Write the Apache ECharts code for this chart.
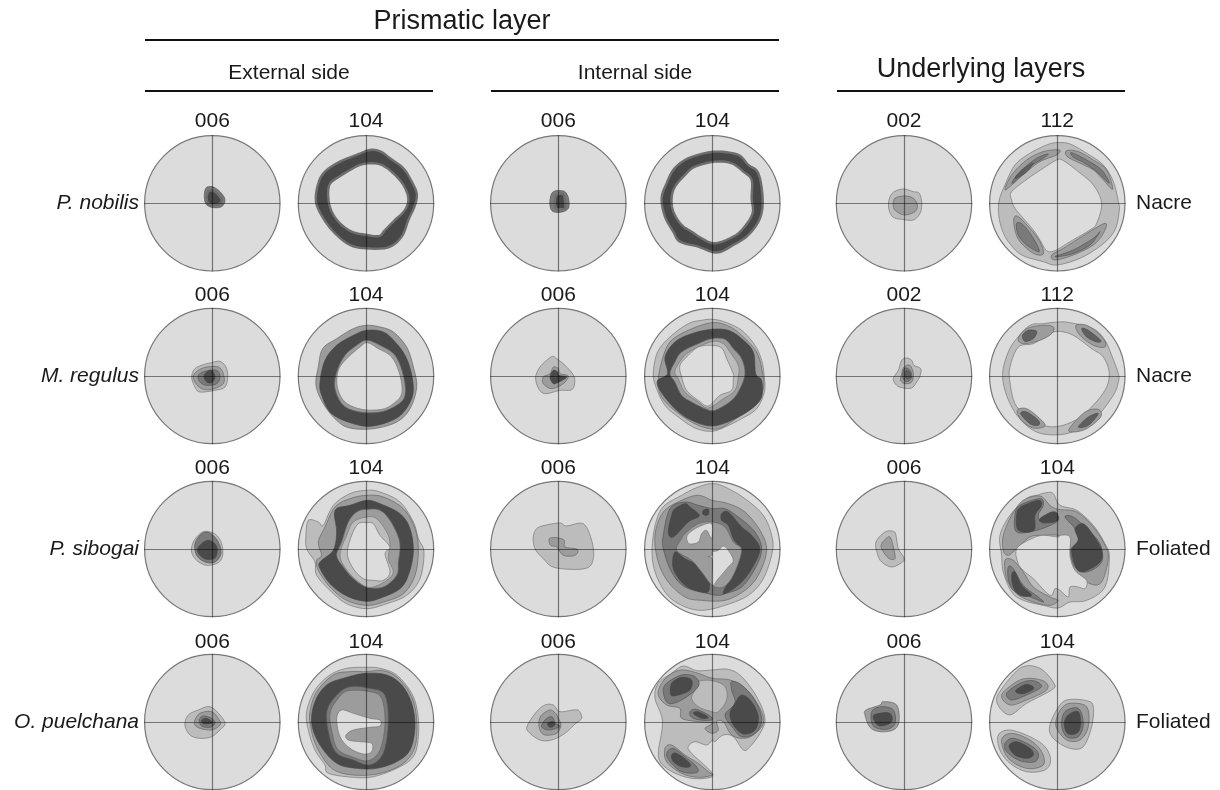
<!DOCTYPE html>
<html><head><meta charset="utf-8"><style>html,body{margin:0;background:#fff}#c{width:1220px;height:790px}</style>
<script src="https://cdn.jsdelivr.net/npm/echarts@6/dist/echarts.min.js"></script></head><body><div id="c"></div><script>
// Contours: [density level, [x,y, x,y ...]], per pole figure.
const nobilisExt006=[[3,[205,170,222,172,240,185,254,205,252,222,240,232,215,232,198,222,193,200,196,178]],[6,[208,182,225,185,243,205,243,218,225,225,205,220,200,200]]];
const nobilisExt104=[[6,[690,60,722,65,750,85,790,115,815,155,830,190,825,225,805,270,785,320,745,352,680,355,630,345,585,310,550,265,528,215,535,160,555,125,600,95,650,75]],[7,[690,100,725,105,760,130,790,165,805,205,795,240,765,270,735,300,718,318,680,315,635,305,600,280,575,245,565,205,568,165,590,145,630,120,660,105]]];
const nobilisInt006=[[3,[205,185,235,183,247,195,252,215,250,235,235,245,212,247,198,238,195,210]],[6,[215,195,235,193,240,215,240,235,225,238,213,235,210,215]]];
const nobilisInt104=[[6,[700,65,760,75,790,105,820,130,833,205,825,265,790,315,745,345,695,368,640,350,585,335,565,305,540,260,530,205,545,160,565,120,600,90,650,72]],[7,[690,95,740,100,775,125,800,150,800,205,803,250,775,295,745,320,690,340,650,325,620,305,590,285,565,245,560,205,570,170,600,135,630,110]]];
const nobilisUnd002=[[1,[220,177,250,185,268,190,275,220,270,250,250,270,215,268,190,262,177,240,177,210,190,187]],[2,[195,205,225,198,250,205,262,225,255,245,225,255,200,245,190,230]]];
const nobilisUnd112=[[1,[682,38,720,42,770,70,820,105,850,155,865,215,868,240,855,300,815,345,750,385,680,405,640,395,575,375,535,335,515,295,506,250,508,210,525,165,555,105,600,70,650,45]],[0,[680,90,700,92,745,125,790,165,815,220,800,280,780,300,720,335,675,362,650,362,630,330,610,300,580,265,555,235,545,210,545,185,595,145,640,115]],
[2,[525,178,545,135,590,90,640,65,688,60,680,75,630,95,585,130,540,170]],[3,[545,160,570,125,620,85,655,72,640,85,600,110,565,145]],[4,[555,145,580,118,610,100,585,130]],
[2,[710,62,745,65,790,90,830,120,848,178,820,150,790,120,750,100,712,80]],[3,[725,68,770,90,815,120,838,160,800,125,765,100,730,82]],
[2,[552,265,565,260,600,295,630,335,640,372,610,370,570,335,555,300]],[3,[560,280,580,285,610,325,628,365,590,345,565,315]],
[2,[665,375,700,355,755,320,825,280,820,310,790,345,730,375,675,390]],[3,[675,380,730,360,790,325,810,305,780,345,725,372]]];
const regulusExt006=[[1,[215,182,240,178,258,195,263,225,255,255,225,265,180,270,165,255,155,225,165,200,190,188]],[2,[175,205,200,195,235,195,250,215,250,245,215,262,185,260,165,240,160,222]],[3,[175,220,195,208,230,205,240,225,230,245,200,250,180,240]],[5,[198,212,215,205,225,225,215,242,200,240,192,225]]];
const regulusExt104=[[2,[680,70,720,75,760,90,800,135,820,195,830,255,810,320,770,360,700,380,630,378,590,355,550,305,528,250,535,195,548,140,590,110,640,80]],[5,[680,85,730,90,770,125,800,170,818,235,815,290,775,345,700,372,640,365,575,335,545,280,540,240,555,175,590,130,640,100]],[2,[680,115,720,130,765,160,790,220,795,280,770,310,720,330,660,330,610,310,585,260,590,210,615,160,650,130]],[0,[682,122,715,140,755,165,780,220,785,275,760,305,725,322,665,322,615,300,592,255,595,205,620,170,660,135]]];
const regulusInt006=[[1,[203,163,215,170,240,190,268,225,262,262,225,265,180,275,160,258,152,225,165,195,185,175]],[2,[175,225,195,215,205,195,220,200,225,215,250,222,235,245,200,260,175,245]],[5,[195,225,205,205,218,210,222,220,245,225,222,240,205,245]]];
const regulusInt104=[[1,[682,52,720,60,770,85,810,130,830,175,838,225,838,270,815,320,770,350,720,375,680,388,630,378,580,345,540,310,515,260,505,215,518,150,555,105,610,65,650,55]],[2,[680,62,730,72,770,100,815,150,832,210,835,260,810,310,760,345,700,380,640,370,575,330,530,285,520,240,530,180,555,120,610,85]],[5,[680,82,730,85,770,110,805,150,812,215,830,235,830,285,800,320,740,355,680,372,620,355,570,320,525,265,518,235,548,215,540,165,570,120,620,95]],[2,[680,110,720,112,745,140,770,170,780,215,765,260,740,295,690,325,660,320,620,300,590,280,570,240,555,215,570,180,590,150,640,125]],[1,[685,118,715,125,735,150,760,190,760,225,750,265,715,290,670,318,640,300,600,270,580,230,570,205,600,160,640,135]],[0,[680,130,710,138,725,170,745,215,745,232,740,265,705,280,670,312,640,295,605,265,590,225,585,190,610,160,640,135]]];
const regulusUnd002=[[1,[230,168,245,175,252,190,272,200,270,222,260,240,245,258,220,258,200,250,190,230,205,205,215,175]],[2,[222,195,240,190,250,215,245,240,225,245,212,235,215,215]],[3,[225,198,240,205,245,225,235,238,222,235,218,215]],[4,[230,205,240,212,240,228,228,228,225,215]]];
const regulusUnd112=[[1,[684,60,720,62,790,80,825,115,845,160,865,215,865,240,850,280,800,345,750,380,690,398,620,390,565,345,530,280,518,215,535,150,560,110,600,70,640,65]],[0,[684,88,730,100,785,140,820,165,838,215,825,265,780,320,745,350,690,372,640,370,590,340,555,305,540,240,540,195,565,135,610,125,650,100]],
[2,[565,110,590,80,640,70,670,75,665,95,630,115,580,125]],[4,[578,100,595,85,620,88,610,110,585,118]],[2,[738,70,775,72,820,110,825,135,790,130,750,100]],[4,[755,80,775,85,812,115,800,120,770,105]],[2,[562,325,590,320,630,350,645,372,610,378,575,355]],[4,[572,335,590,330,625,355,625,370,600,365]],[2,[718,380,765,330,805,322,812,345,770,380,730,390]],[4,[745,375,775,345,805,335,775,370]]];
const sibogaiExt006=[[1,[200,178,228,188,245,215,248,250,235,272,200,280,170,265,155,240,160,210,180,185]],[3,[185,185,210,183,235,210,243,245,225,270,195,270,170,250,165,215]],[5,[185,215,205,205,225,215,232,235,225,258,200,262,180,250,172,232]]];
const sibogaiExt104=[[1,[680,55,720,60,780,90,820,150,835,200,852,240,840,320,800,370,740,395,680,410,620,395,575,360,530,310,525,270,500,230,498,190,505,145,535,150,550,160,580,100,630,65]],[2,[680,70,730,75,790,110,825,170,835,235,825,310,790,365,730,390,680,400,620,385,570,345,535,295,530,265,545,250,535,210,555,165,585,105,630,80]],[5,[680,85,720,95,780,125,810,170,820,240,805,310,780,350,730,375,680,388,620,372,570,335,538,285,545,265,580,235,590,180,585,115,630,100]],[2,[680,112,720,115,750,145,775,195,780,230,775,270,770,310,730,345,680,345,640,320,610,285,590,250,605,210,625,150,650,120]],[1,[680,135,710,140,740,180,750,215,745,260,760,300,740,325,700,345,670,340,625,300,600,250,620,190,640,150]],[0,[680,152,700,155,720,190,750,225,735,245,750,300,730,325,700,325,670,320,640,290,622,245,635,190,655,155]]];
const sibogaiInt006=[[1,[180,160,225,153,245,162,295,155,320,205,325,260,300,290,210,287,175,260,150,230,145,195,155,170]],[2,[193,200,215,197,238,205,240,225,277,232,270,250,235,250,215,225,197,220]]];
const sibogaiInt104=[[1,[682,35,720,45,780,80,835,130,860,190,862,240,835,320,790,370,720,400,650,415,590,400,540,360,505,280,505,190,530,110,590,70,640,45]],[2,[640,70,682,85,730,95,780,120,825,175,845,235,820,310,780,355,720,385,650,385,600,375,550,330,520,270,510,190,535,120,590,85]],[3,[600,90,640,100,682,110,720,110,760,135,810,180,830,232,810,290,770,345,720,365,700,370,670,365,600,345,560,300,535,230,535,190,555,110]],
[5,[570,110,600,95,615,105,640,125,640,135,610,150,565,195,550,180,560,130]],[5,[655,115,670,112,670,128,655,128]],[5,[710,125,730,120,770,165,800,190,825,232,800,290,770,330,730,360,715,360,745,300,765,235,745,200,730,160,710,145]],[5,[570,240,600,260,640,280,670,310,672,355,650,360,600,340,565,290]],
[2,[600,185,640,155,682,150,720,165,745,210,770,235,745,310,715,345,682,340,650,300,620,265,575,235,590,200]],[0,[607,190,640,165,680,155,680,200,665,175,650,185,640,210,612,215]],[0,[682,240,700,235,715,222,730,235,745,265,730,285,700,320,682,338,682,262,668,255,682,250]]];
const sibogaiUnd006=[[1,[165,180,190,178,198,190,205,230,222,258,215,272,185,285,155,270,142,245,138,210]],[2,[168,200,180,195,190,225,195,260,175,258,155,230,155,215]]];
const sibogaiUnd104=[[1,[650,62,670,65,690,100,740,115,790,160,825,215,838,255,825,345,770,385,720,390,684,408,640,400,580,385,545,360,520,300,515,250,510,190,540,130,590,80,620,70]],[2,[580,85,630,72,660,100,684,112,740,120,790,165,825,220,835,260,815,330,780,335,730,295,715,240,715,205,684,190,640,190,600,195,560,230,535,250,520,235,520,190,545,130]],[2,[525,265,550,265,580,300,610,345,660,375,684,385,660,400,610,390,560,365,530,320]],
[3,[570,100,630,80,640,100,625,130,640,155,680,130,680,150,620,175,560,180,555,130]],[3,[705,135,730,135,770,170,810,215,815,270,770,300,735,285,722,235,745,205,735,170]],[3,[535,285,550,290,580,340,625,375,640,390,590,370,550,355,535,320]],
[5,[572,105,625,85,635,100,615,130,612,175,565,175,560,130]],[5,[630,140,665,120,682,125,680,148,640,152]],[5,[735,170,760,155,790,190,815,235,810,270,765,298,740,290,725,235,745,205]],[5,[545,310,555,300,575,340,605,370,570,370,550,345]],
[0,[560,230,605,200,640,190,684,195,690,190,720,195,720,250,735,295,770,325,765,350,745,345,720,345,715,375,690,355,675,350,660,370,610,320,585,300,565,275]]];
const puelchanaExt006=[[1,[175,210,210,200,240,225,255,250,245,265,215,290,180,295,150,285,135,255,145,225]],[2,[165,240,180,220,215,215,238,240,240,255,215,270,180,265,165,255]],[3,[178,240,190,228,215,235,225,250,210,262,185,258]],[5,[185,240,200,235,218,248,200,252,188,250]]];
const puelchanaExt104=[[1,[678,82,720,85,770,105,815,160,833,220,835,290,820,350,770,385,700,410,640,412,565,400,555,375,525,330,505,270,500,215,525,150,570,105,620,85]],[2,[678,95,730,92,775,115,815,170,830,240,825,320,790,370,720,400,640,405,575,385,530,320,512,260,510,215,530,155,580,105,630,95]],[5,[678,100,740,105,785,135,815,190,825,260,810,330,770,365,710,385,650,385,590,370,540,315,515,250,525,185,560,135,620,112]],[3,[630,140,690,145,735,165,745,250,730,340,690,375,640,360,590,340,568,290,560,215,590,165]],[2,[625,152,690,155,725,175,735,250,720,330,685,362,640,352,595,330,578,285,570,220,595,175]],[0,[605,210,640,220,690,235,720,240,720,258,690,262,640,270,618,285,625,300,660,305,695,310,695,335,670,342,630,325,600,290,590,235]]];
const puelchanaInt006=[[1,[180,195,205,195,225,215,265,210,282,212,290,235,270,252,240,280,200,300,165,300,130,275,128,255,155,215]],[2,[170,225,195,210,212,220,220,235,228,255,215,280,180,285,165,270,162,245]],[3,[180,240,200,230,212,250,225,260,190,270,170,260]],[5,[188,250,205,245,210,255,195,262]]];
const puelchanaInt104=[[1,[595,78,635,92,682,90,730,88,770,110,815,170,840,235,825,280,795,320,775,330,745,290,715,285,690,305,682,300,665,315,630,305,610,320,620,340,682,400,660,415,605,412,545,385,520,345,533,245,510,175,520,130,560,100]],[2,[560,100,595,90,640,100,682,115,735,120,780,145,825,205,835,250,805,285,775,295,740,285,715,245,695,245,700,270,680,280,660,265,682,250,640,245,590,235,585,205,545,195,520,165,530,130]],[1,[640,125,682,122,720,140,725,180,700,215,680,215,640,200,620,175,630,150]],
[3,[740,125,770,135,810,180,830,240,810,280,770,290,745,265,720,225,750,190,740,150]],[5,[770,165,800,185,820,230,810,270,775,282,745,255,735,220,750,190]],[3,[545,130,590,105,630,110,640,140,590,180,550,190,535,155]],[5,[560,130,590,112,620,120,615,150,580,165,558,165]],[3,[615,215,635,208,675,228,680,240,645,240,620,232]],[5,[625,220,640,215,670,232,650,235]],
[2,[540,325,560,315,600,345,640,370,670,395,682,405,640,412,590,400,545,365]],[3,[545,340,565,325,600,350,635,380,635,398,590,395,555,365]],[5,[560,345,575,340,610,365,615,380,590,380,565,365]]];
const puelchanaUnd006=[[2,[108,210,150,195,160,185,200,195,207,245,190,270,150,275,120,262,105,225]],[3,[125,215,155,200,190,210,195,250,170,268,130,258]],[5,[132,225,175,218,187,235,180,250,150,258,135,245]]];
const puelchanaUnd104=[[1,[575,82,630,85,672,130,665,150,590,190,538,225,500,185,520,140]],[2,[515,165,560,125,600,115,645,125,650,150,590,180,540,195]],[3,[530,160,570,130,610,122,635,140,590,165,545,180]],[5,[558,150,590,133,612,145,585,160,565,160]],
[1,[680,210,710,180,770,182,790,200,785,260,760,320,720,325,675,300,658,265]],[2,[695,205,720,190,770,200,775,260,750,300,710,300,680,265,680,235]],[3,[705,215,745,205,760,250,745,290,710,290,695,255]],[5,[715,225,745,215,752,255,740,280,712,280,703,250]],
[1,[505,285,540,270,600,290,645,320,662,360,645,390,590,395,540,370,510,330]],[2,[515,300,545,280,600,300,635,335,640,375,590,385,535,355]],[3,[525,310,550,295,600,315,625,340,615,365,570,362,530,335]],[5,[537,318,560,305,600,325,610,345,590,355,555,345]]];

const figures=[nobilisExt006,nobilisExt104,nobilisInt006,nobilisInt104,nobilisUnd002,nobilisUnd112,
regulusExt006,regulusExt104,regulusInt006,regulusInt104,regulusUnd002,regulusUnd112,
sibogaiExt006,sibogaiExt104,sibogaiInt006,sibogaiInt104,sibogaiUnd006,sibogaiUnd104,
puelchanaExt006,puelchanaExt104,puelchanaInt006,puelchanaInt104,puelchanaUnd006,puelchanaUnd104];
// Reading frame of each column and row (centre of the circle, scale per unit radius)
const readCx=[217,678,220,682,222,682], readCy=[220,222,231,246], readR=203;
const reflections=[['006','104','006','104','002','112'],['006','104','006','104','002','112'],['006','104','006','104','006','104'],['006','104','006','104','006','104']];
const species=['P. nobilis','M. regulus','P. sibogai','O. puelchana'];
const layers=['Nacre','Nacre','Foliated','Foliated'];

const colX=[212.3,366,558.3,712.3,904,1057.3], rowY=[203.3,376,549,722], R=67.7, labelY=[121,295,468,642];
const fills=['#dcdcdc','#bcbcbc','#9c9c9c','#7a7a7a','#5f5f5f','#4a4a4a','#474747','#dcdcdc'];
const strokes=['#777','#777','#666','#555','#444','#444','#6e6e6e','#6e6e6e'];
const widths=[.7,.7,.7,.7,.6,.6,2.4,2.4];
const font='"Liberation Sans",Arial,sans-serif';
const txt=(t,x,y,size,align,style)=>({text:t,left:x,top:y,textAlign:align||'center',textVerticalAlign:'middle',padding:0,textStyle:{fontFamily:font,fontSize:size,fontWeight:'normal',fontStyle:style||'normal',color:'#1a1a1a'}});
const title=[txt('Prismatic layer',462,22,27),txt('External side',289,73,21),txt('Internal side',635,73,21),txt('Underlying layers',981,70,27)];
const grid=[],xAxis=[],yAxis=[],series=[];
// draw each contour as a rounded outline through its read points
const rounded=p=>{const n=p.length,o=[];for(let i=0;i<n;i++){const a=p[(i+n-1)%n],b=p[i],c=p[(i+1)%n],d=p[(i+2)%n];
  for(let s=0;s<5;s++){const t=s/5,t2=t*t,t3=t2*t;o.push([0,1].map(j=>.5*(2*b[j]+(c[j]-a[j])*t+(2*a[j]-5*b[j]+4*c[j]-d[j])*t2+(3*b[j]-a[j]-3*c[j]+d[j])*t3)));}}return o;};
figures.forEach((fig,i)=>{
  const c=i%6,r=Math.floor(i/6);
  grid.push({left:colX[c]-R,top:rowY[r]-R,width:2*R,height:2*R});
  const ax={gridIndex:i,type:'value',min:-1,max:1,z:5,show:true,splitLine:{show:false},axisTick:{show:false},axisLabel:{show:false},axisLine:{show:true,onZero:true,lineStyle:{color:'rgba(0,0,0,0.48)',width:1.2}}};
  xAxis.push(ax);yAxis.push({...ax});
  title.push(txt(reflections[r][c],colX[c],labelY[r],21));
  const norm=f=>{const p=[];for(let k=0;k<f.length;k+=2)p.push([(f[k]-readCx[c])/readR,(readCy[r]-f[k+1])/readR]);return rounded(p);};
  const polys=fig.map(e=>({level:e[0],pts:norm(e[1])}));
  series.push({type:'custom',xAxisIndex:i,yAxisIndex:i,coordinateSystem:'cartesian2d',silent:true,clip:false,encode:{x:0,y:1},
    data:[[0,0,-1]].concat(polys.map((_,k)=>[0,0,k])),
    renderItem:(params,api)=>{
      const k=api.value(2);
      if(k<0){const o=api.coord([0,0]),s=api.size([1,1]);
        return {type:'circle',shape:{cx:o[0],cy:o[1],r:s[0]},style:{fill:'#dcdcdc',stroke:'#777',lineWidth:1.2}};}
      const p=polys[k];
      return {type:'polygon',shape:{points:p.pts.map(q=>api.coord(q))},style:{fill:fills[p.level],stroke:strokes[p.level],lineWidth:widths[p.level]}};
    }});
});
species.forEach((s,r)=>title.push(txt(s,139,rowY[r],21,'right','italic')));
layers.forEach((s,r)=>title.push(txt(s,1136,rowY[r],21,'left')));
const rule=(x1,y,x2,w)=>({type:'line',shape:{x1,y1:y,x2,y2:y},style:{stroke:'#111',lineWidth:w}});
const chart=echarts.init(document.getElementById('c'));
chart.setOption({animation:false,backgroundColor:'#fff',title,grid,xAxis,yAxis,series,tooltip:{show:false},
  graphic:[rule(145,40,779,2),rule(145,91,433,2),rule(491,91,779,2),rule(837,91,1125,2)]});
</script></body></html>
